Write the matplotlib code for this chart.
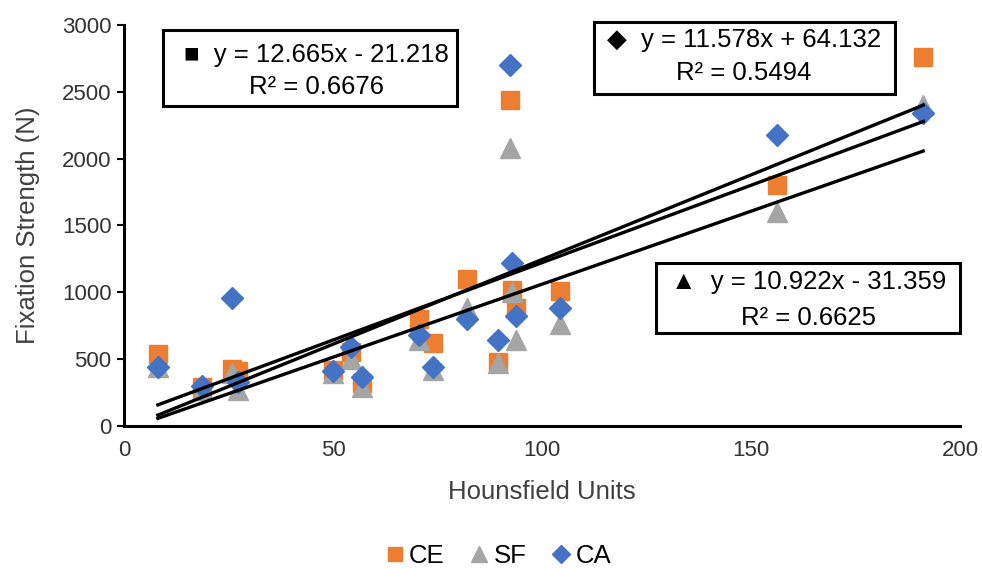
import numpy as np
import matplotlib.pyplot as plt
from matplotlib.patches import Rectangle

plt.rcParams['font.family'] = ['Liberation Sans', 'DejaVu Sans']

# Hounsfield units per specimen
hu = [8.1, 18.6, 25.9, 27.2, 49.9, 54.4, 56.9, 70.5, 74, 82.1, 89.4, 92.4, 92.7, 93.7, 104.3, 156.1, 191.2]
ce = [540, 290, 430, 410, 420, 550, 320, 800, 620, 1100, 480, 2440, 1020, 880, 1010, 1800, 2760]
sf = [440, 270, 400, 270, 400, 500, 290, 640, 420, 880, 470, 2080, 1000, 640, 760, 1600, 2400]
ca = [440, 300, 960, 330, 410, 590, 370, 680, 440, 800, 640, 2700, 1220, 820, 880, 2180, 2340]

# trendline coefficients (slope, intercept, R2) as printed on the chart
fit_ce = (12.665, -21.218, 0.6676)
fit_sf = (10.922, -31.359, 0.6625)
fit_ca = (11.578, 64.132, 0.5494)

c_ce = '#ED7D31'
c_sf = '#A5A5A5'
c_ca = '#4472C4'

fig = plt.figure(figsize=(9.82, 5.77), dpi=100)
ax = fig.add_axes([0.1263, 0.2617, 0.8513, 0.695])

ax.plot(hu, ce, 's', color=c_ce, markersize=13, label='CE', zorder=3)
ax.plot(hu, sf, '^', color=c_sf, markersize=14, label='SF', zorder=4)
ax.plot(hu, ca, 'D', color=c_ca, markersize=11.5, label='CA', zorder=5)

xs = np.array([min(hu), max(hu)])
for m, b, r2 in (fit_ce, fit_sf, fit_ca):
    ax.plot(xs, m * xs + b, color='black', linewidth=2.4, zorder=6)

ax.set_xlim(0, 200)
ax.set_ylim(0, 3000)
ax.set_xticks([0, 50, 100, 150, 200])
ax.set_yticks(range(0, 3001, 500))
ax.tick_params(axis='y', direction='out', length=5, width=1.5, labelsize=16, pad=4,
               labelcolor='#333333')
ax.tick_params(axis='x', length=0, labelsize=16, pad=10, labelcolor='#333333')
for s in ('top', 'right'):
    ax.spines[s].set_visible(False)
for s in ('left', 'bottom'):
    ax.spines[s].set_linewidth(2.2)
ax.set_xlabel('Hounsfield Units', fontsize=18.5, color='#404040', labelpad=14)
ax.set_ylabel('Fixation Strength (N)', fontsize=18.5, color='#404040', labelpad=16)


def eq_box(box, tx, ty1, ty2, sym, fit):
    m, b, r2 = fit
    x0, x1, y0, y1 = box
    ax.add_patch(Rectangle((x0, y0), x1 - x0, y1 - y0, transform=ax.transAxes,
                           fc='white', ec='black', lw=2.2, zorder=9, clip_on=False))
    sign = '-' if b < 0 else '+'
    ax.text(tx, ty1, f'{sym}  y = {m:.3f}x {sign} {abs(b):.3f}', transform=ax.transAxes,
            fontsize=18.5, ha='center', va='center', zorder=10)
    ax.text(tx, ty2, f'R² = {r2:.4f}', transform=ax.transAxes,
            fontsize=18.5, ha='center', va='center', zorder=10)


eq_box((0.0467, 0.398, 0.798, 0.9875), 0.2297, 0.925, 0.845, '■', fit_ce)
eq_box((0.562, 0.922, 0.828, 1.0075), 0.7416, 0.9626, 0.880, '◆', fit_ca)
eq_box((0.636, 1.0, 0.232, 0.4065), 0.819, 0.359, 0.269, '▲', fit_sf)

fig.legend(loc='lower center', bbox_to_anchor=(0.505, -0.025), ncol=3, frameon=False,
           fontsize=18.5, handletextpad=0.0, columnspacing=0.8, markerscale=0.8,
           handlelength=1.1)

fig.savefig('out.png', dpi=100)
